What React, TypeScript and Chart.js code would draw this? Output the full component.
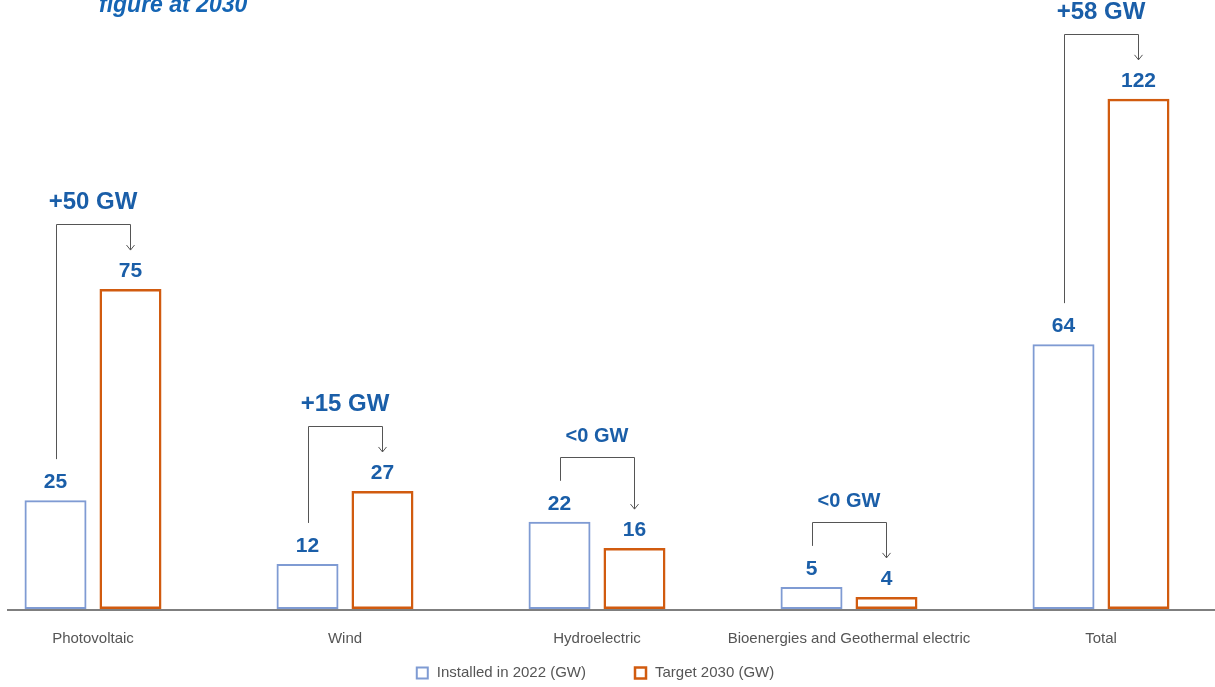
import React, { useEffect, useRef } from 'react';
import { Chart, registerables } from 'chart.js';

Chart.register(...registerables);

const categories = ['Photovoltaic', 'Wind', 'Hydroelectric', 'Bioenergies and Geothermal electric', 'Total'];
const installed2022 = [26.1, 10.8, 20.9, 5.3, 63.5];
const target2030 = [76.7, 28.3, 14.6, 2.9, 122.3];
const installedLabels = ['25', '12', '22', '5', '64'];
const targetLabels = ['75', '27', '16', '4', '122'];
const deltaLabels = ['+50 GW', '+15 GW', '<0 GW', '<0 GW', '+58 GW'];
const seriesNames = ['Installed in 2022 (GW)', 'Target 2030 (GW)'];
const titleText = 'figure at 2030';

const FONT = '"Liberation Sans", Arial, Helvetica, sans-serif';
const SHIFT = 33; // canvas starts 33px left of the page
const BLUE_TEXT = '#1a5ea8';
const BLUE_BORDER = '#7f9bd3';
const ORANGE_BORDER = '#d15b0f';
const GREY = '#555555';

const annotatePlugin = {
  id: 'annotate',
  afterDatasetsDraw(chart: any) {
    const ctx = chart.ctx as CanvasRenderingContext2D;
    const area = chart.chartArea;
    const m0 = chart.getDatasetMeta(0).data;
    const m1 = chart.getDatasetMeta(1).data;
    ctx.save();
    // baseline axis
    ctx.strokeStyle = GREY;
    ctx.lineWidth = 1.5;
    ctx.beginPath();
    ctx.moveTo(SHIFT + 7, area.bottom + 1);
    ctx.lineTo(chart.width, area.bottom + 1);
    ctx.stroke();

    for (let i = 0; i < categories.length; i++) {
      const b = m0[i];
      const o = m1[i];
      ctx.fillStyle = BLUE_TEXT;
      ctx.textAlign = 'center';
      ctx.textBaseline = 'alphabetic';
      ctx.font = `bold 21px ${FONT}`;
      const by = b.y - 12;
      const oy = o.y - 12;
      ctx.fillText(installedLabels[i], b.x, by);
      ctx.fillText(targetLabels[i], o.x, oy);
      const cap = 15;
      const bTop = by - cap;
      const oTop = oy - cap;
      const hy = Math.round(Math.min(bTop, oTop) - 38) + 0.5;
      const leftEnd = bTop - 14;
      const tip = oTop - 12;
      const lx = Math.round(b.x) + 0.5;
      const rx = Math.round(o.x) + 0.5;
      ctx.strokeStyle = GREY;
      ctx.lineWidth = 1;
      ctx.beginPath();
      ctx.moveTo(lx, leftEnd);
      ctx.lineTo(lx, hy);
      ctx.lineTo(rx, hy);
      ctx.lineTo(rx, tip);
      ctx.stroke();
      ctx.beginPath();
      ctx.moveTo(rx - 4, tip - 5);
      ctx.lineTo(rx, tip);
      ctx.lineTo(rx + 4, tip - 5);
      ctx.stroke();
      const small = deltaLabels[i].startsWith('<');
      ctx.font = `bold ${small ? 20 : 24}px ${FONT}`;
      ctx.fillStyle = BLUE_TEXT;
      ctx.fillText(deltaLabels[i], (b.x + o.x) / 2, hy - 16);
    }
    ctx.restore();
  },
  afterDraw(chart: any) {
    const ctx = chart.ctx as CanvasRenderingContext2D;
    const area = chart.chartArea;
    ctx.save();
    // title fragment
    ctx.font = `italic bold 23px ${FONT}`;
    ctx.fillStyle = '#1565b4';
    ctx.textAlign = 'left';
    ctx.textBaseline = 'alphabetic';
    ctx.fillText(titleText, SHIFT + 99, 12);

    // legend
    ctx.font = `15px ${FONT}`;
    const box = 13;
    const gapText = 8;
    const gapItems = 48;
    const w = seriesNames.map((s) => ctx.measureText(s).width);
    const total = box + gapText + w[0] + gapItems + box + gapText + w[1];
    let x = (area.left + area.right) / 2 - total / 2 - 2;
    const cy = 673;
    const colors = [BLUE_BORDER, ORANGE_BORDER];
    const lws = [2, 2.5];
    for (let i = 0; i < 2; i++) {
      ctx.strokeStyle = colors[i];
      ctx.lineWidth = lws[i];
      ctx.strokeRect(x + 1, cy - box / 2 + 1, box - 2, box - 2);
      ctx.fillStyle = GREY;
      ctx.textBaseline = 'middle';
      ctx.fillText(seriesNames[i], x + box + gapText, cy);
      x += box + gapText + w[i] + gapItems;
    }
    ctx.restore();
  },
};

export default function App() {
  const ref = useRef<HTMLCanvasElement | null>(null);
  useEffect(() => {
    if (!ref.current) return;
    Chart.defaults.font.family = FONT;
    const chart = new Chart(ref.current, {
      type: 'bar',
      data: {
        labels: categories,
        datasets: [
          {
            label: seriesNames[0],
            data: installed2022,
            backgroundColor: 'rgba(255,255,255,0)',
            borderColor: BLUE_BORDER,
            borderWidth: 2,
            borderSkipped: false,
            categoryPercentage: 0.595,
            barPercentage: 0.827,
          },
          {
            label: seriesNames[1],
            data: target2030,
            backgroundColor: 'rgba(255,255,255,0)',
            borderColor: ORANGE_BORDER,
            borderWidth: 2.5,
            borderSkipped: false,
            categoryPercentage: 0.595,
            barPercentage: 0.827,
          },
        ],
      },
      options: {
        responsive: false,
        animation: false,
        layout: { padding: { top: 0, left: 0, right: 0, bottom: 18 } },
        plugins: {
          legend: { display: false },
          tooltip: { enabled: false },
        },
        scales: {
          x: {
            grid: { display: false, drawTicks: false },
            border: { display: false },
            ticks: { color: GREY, font: { size: 15, family: FONT }, padding: 21, maxRotation: 0, autoSkip: false },
          },
          y: { display: false, min: 0, max: 146 },
        },
      },
      plugins: [annotatePlugin],
    });
    return () => chart.destroy();
  }, []);
  return (
    <div style={{ position: 'fixed', left: 0, top: 0, width: 1215, height: 687, overflow: 'hidden', background: '#fff' }}>
      <canvas ref={ref} width={1260} height={687} style={{ position: 'absolute', left: -SHIFT, top: 0 }} />
    </div>
  );
}
